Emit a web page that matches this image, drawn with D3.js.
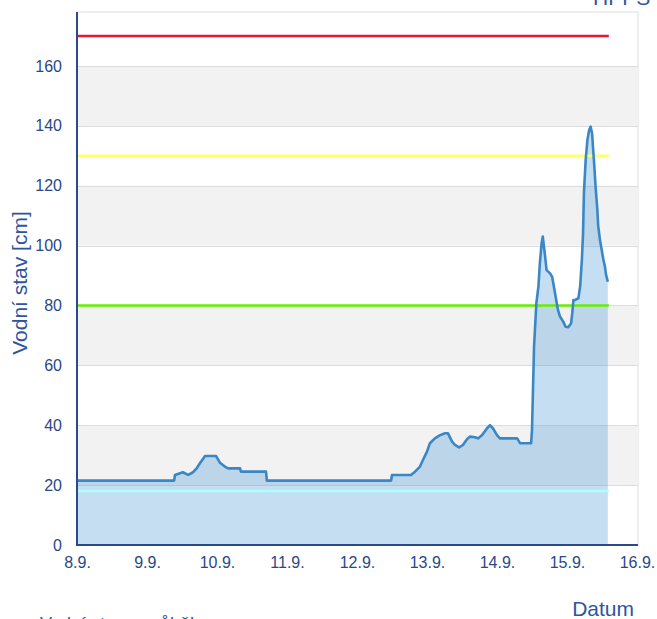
<!DOCTYPE html>
<html>
<head>
<meta charset="utf-8">
<script src="https://cdn.jsdelivr.net/npm/d3@7"></script>
<style>
  html, body { margin: 0; padding: 0; background: #fff; }
  svg { display: block; font-family: "Liberation Sans", Arial, sans-serif; }
</style>
</head>
<body>
<svg id="chart" width="657" height="619"></svg>
<script>
// ---- data ----
const startDate = "2024-09-08T00:00";
const dayLabels = ["8.9.", "9.9.", "10.9.", "11.9.", "12.9.", "13.9.", "14.9.", "15.9.", "16.9."];
const yTicks = [0, 20, 40, 60, 80, 100, 120, 140, 160];
// hours since 8.9. 00:00
const hours = [0, 33.3, 33.6, 36.3, 38.1, 39.8, 41.1, 42.2, 43.9, 47.7, 49.0, 50.7, 51.8, 55.9, 56.2, 64.8, 65.1,
  107.7, 108.0, 114.5, 115.9, 117.6, 118.6, 120.0, 121.0, 122.7, 124.5, 126.2, 127.2, 128.6, 129.6, 131.0, 132.3,
  133.7, 134.7, 136.5, 137.5, 138.9, 140.6, 141.6, 142.6, 144.0, 145.0, 150.9, 151.9, 155.7, 156.0, 156.7, 157.5,
  158.2, 158.7, 159.3, 159.7, 160.1, 160.5, 161.0, 162.2, 162.9, 163.3, 163.9, 164.5, 164.9, 165.6, 166.7, 167.5,
  168.4, 169.4, 169.8, 170.2, 170.7, 171.9, 172.5, 173.1, 173.5, 173.8, 174.4, 175.0, 175.6, 176.1, 176.6, 176.9,
  177.3, 177.8, 178.4, 178.7, 179.3, 179.9, 180.5, 181.0, 181.4, 182.0];
const levels = [21.5, 21.5, 23.4, 24.3, 23.4, 24.3, 25.7, 27.4, 29.7, 29.7, 27.5, 26.2, 25.6, 25.6, 24.5, 24.5, 21.5,
  21.5, 23.4, 23.4, 24.5, 26.2, 28.4, 31.2, 34.0, 35.6, 36.7, 37.3, 37.3, 34.5, 33.4, 32.6, 33.4,
  35.3, 36.2, 36.0, 35.6, 36.7, 39.0, 40.0, 39.0, 36.7, 35.6, 35.6, 34.0, 34.0, 38.4, 66.2, 80.8,
  86.3, 94.1, 100.8, 103.0, 99.6, 96.3, 91.8, 90.7, 89.6, 87.4, 84.1, 80.7, 78.5, 76.3, 74.6, 72.9,
  72.7, 74.0, 77.4, 81.8, 81.8, 82.4, 86.3, 95.2, 104.0, 117.5, 128.6, 135.3, 138.6, 139.7, 137.5, 133.0,
  127.5, 119.7, 111.9, 106.5, 101.9, 98.5, 95.2, 93.0, 90.2, 87.9];
const thresholdValues = [170, 130, 80, 18];
const thresholdColors = ["#e8173c", "#ffff66", "#66ee00", "#aaffff"];

// ---- layout ----
const svg = d3.select("#chart");
const m = { left: 77, right: 638, top: 12, bottom: 545 };
const t0 = new Date(startDate);
const days = dayLabels.map((d, i) => d3.timeDay.offset(t0, i));
const x = d3.scaleTime().domain([t0, days[days.length - 1]]).range([m.left, 637]);
const y = d3.scaleLinear().domain([0, 178]).range([m.bottom, m.top]);
const data = hours.map((h, i) => ({ t: new Date(t0.getTime() + h * 3600e3), v: levels[i] }));
const textColor = "#2a4888";

// plot background + bands
svg.append("rect").attr("x", m.left).attr("y", m.top)
  .attr("width", m.right - m.left).attr("height", m.bottom - m.top)
  .attr("fill", "#fff").attr("stroke", "#dddddd").attr("stroke-width", 1);
yTicks.forEach((v, i) => {
  if (i % 2 === 1 && i < yTicks.length - 1) {
    svg.append("rect").attr("x", m.left).attr("width", m.right - m.left)
      .attr("y", y(yTicks[i + 1])).attr("height", y(v) - y(yTicks[i + 1]))
      .attr("fill", "#f2f2f2");
  }
});
// gridlines
svg.append("g").selectAll("line").data(yTicks.slice(1)).join("line")
  .attr("x1", m.left).attr("x2", m.right)
  .attr("y1", d => Math.round(y(d)) + 0.5).attr("y2", d => Math.round(y(d)) + 0.5)
  .attr("stroke", "#dcdcdc").attr("stroke-width", 1);

// area
svg.append("path").datum(data)
  .attr("d", d3.area().x(d => x(d.t)).y0(y(0)).y1(d => y(d.v)))
  .attr("fill", "#4f97d6").attr("fill-opacity", 0.32);

// thresholds
const tEnd = data[data.length - 1].t;
svg.append("g").selectAll("line").data(thresholdValues).join("line")
  .attr("x1", m.left).attr("x2", x(tEnd) + 1)
  .attr("y1", d => y(d)).attr("y2", d => y(d))
  .attr("stroke", (d, i) => thresholdColors[i]).attr("stroke-width", 2.5);

// line
svg.append("path").datum(data)
  .attr("d", d3.line().x(d => x(d.t)).y(d => y(d.v)))
  .attr("fill", "none").attr("stroke", "#3a87c6").attr("stroke-width", 2.6)
  .attr("stroke-linejoin", "round");

// axes
const yAxis = svg.append("g").attr("transform", `translate(${m.left},0)`)
  .call(d3.axisLeft(y).tickValues(yTicks).tickSize(0).tickPadding(15));
yAxis.select(".domain").attr("stroke", "#2a4a8a").attr("stroke-width", 2)
  .attr("d", `M0,${m.top}V${m.bottom}`);
yAxis.selectAll("text").attr("fill", textColor).attr("font-size", 16);

const xAxis = svg.append("g").attr("transform", `translate(0,${m.bottom})`)
  .call(d3.axisBottom(x).tickValues(days).tickSize(0).tickPadding(12)
    .tickFormat((d, i) => dayLabels[i]));
xAxis.select(".domain").attr("stroke", "#2a4a8a").attr("stroke-width", 2)
  .attr("d", `M${m.left - 1},0H${m.right}`);
xAxis.selectAll("text").attr("fill", textColor).attr("font-size", 16);

// titles
svg.append("text").attr("transform", "translate(27,283) rotate(-90)")
  .attr("text-anchor", "middle").attr("fill", "#2f55a0").attr("font-size", 21)
  .text("Vodní stav [cm]");
svg.append("text").attr("x", 634).attr("y", 616).attr("text-anchor", "end")
  .attr("fill", "#2f55a0").attr("font-size", 21).text("Datum");
svg.append("text").attr("x", 593).attr("y", 5)
  .attr("fill", "#2f55a0").attr("font-size", 21).text("HPPS");
svg.append("text").attr("x", 40).attr("y", 630)
  .attr("fill", "#2f55a0").attr("font-size", 18).text("Vodní stav – průběh");
</script>
</body>
</html>
